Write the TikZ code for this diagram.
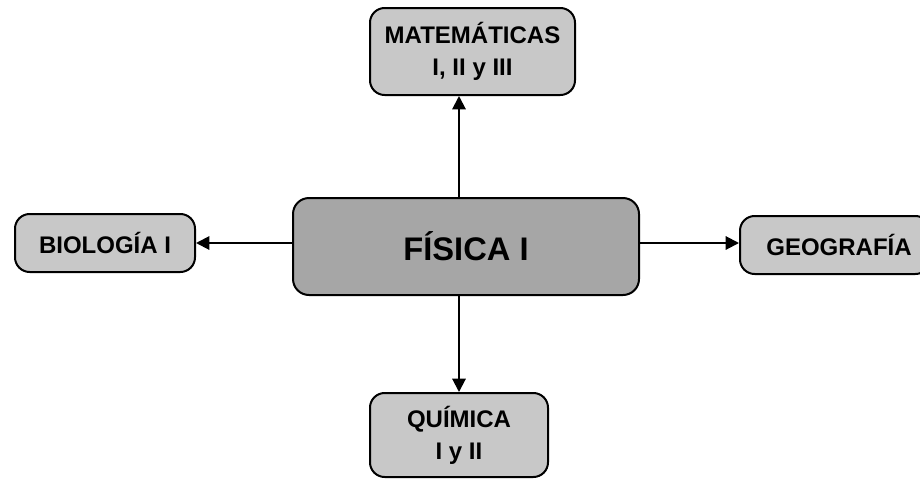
\documentclass[tikz,border=0pt]{standalone}
\usepackage{fontspec}
\setmainfont{Liberation Sans}
\usetikzlibrary{arrows.meta}
\definecolor{centerfill}{HTML}{A6A6A6}
\definecolor{boxfill}{HTML}{C8C8C8}
\begin{document}
\begin{tikzpicture}[x=0.75pt,y=-0.75pt,
  box/.style={draw=black,line width=1.5pt,rounded corners=11pt,fill=boxfill,
    align=center,inner sep=0pt,font=\bfseries\fontsize{18}{24}\selectfont},
  mainbox/.style={box,fill=centerfill,rounded corners=12pt,font=\bfseries\fontsize{24.5}{30}\selectfont},
  arr/.style={line width=1.5pt,-{Triangle[length=10pt,width=10pt]}}]
\useasboundingbox (0,0) rectangle (920,479);
\clip (0,0) rectangle (920,479);
\fill[white] (0,0) rectangle (920,479);
\node[mainbox,minimum width=259.5pt,minimum height=72.75pt] (fis) at (466,246.5) {FÍSICA I};
\node[box,minimum width=153.75pt,minimum height=65.25pt] (mat) at (472.5,51.5) {MATEMÁTICAS\\I, II y III};
\node[box,minimum width=135pt,minimum height=43.5pt] (bio) at (105,243) {BIOLOGÍA I};
\node[box,minimum width=142.5pt,minimum height=43.5pt,text width=135pt,align=left] (geo) at (835,245) {\hspace*{16pt}GEOGRAFÍA};
\node[box,minimum width=133.5pt,minimum height=63pt] (qui) at (459,435) {QUÍMICA\\I y II};
\coordinate (up1) at (fis.north -| qui.north);
\coordinate (up2) at (mat.south -| qui.north);
\draw[arr] (up1) -- (up2);
\draw[arr] (fis.south -| qui.north) -- (qui.north);
\draw[arr] (fis.west |- bio.east) -- (bio.east);
\coordinate (r2) at (geo.west |- 0,243);
\draw[arr] (fis.east |- r2) -- (r2);
\end{tikzpicture}
\end{document}
